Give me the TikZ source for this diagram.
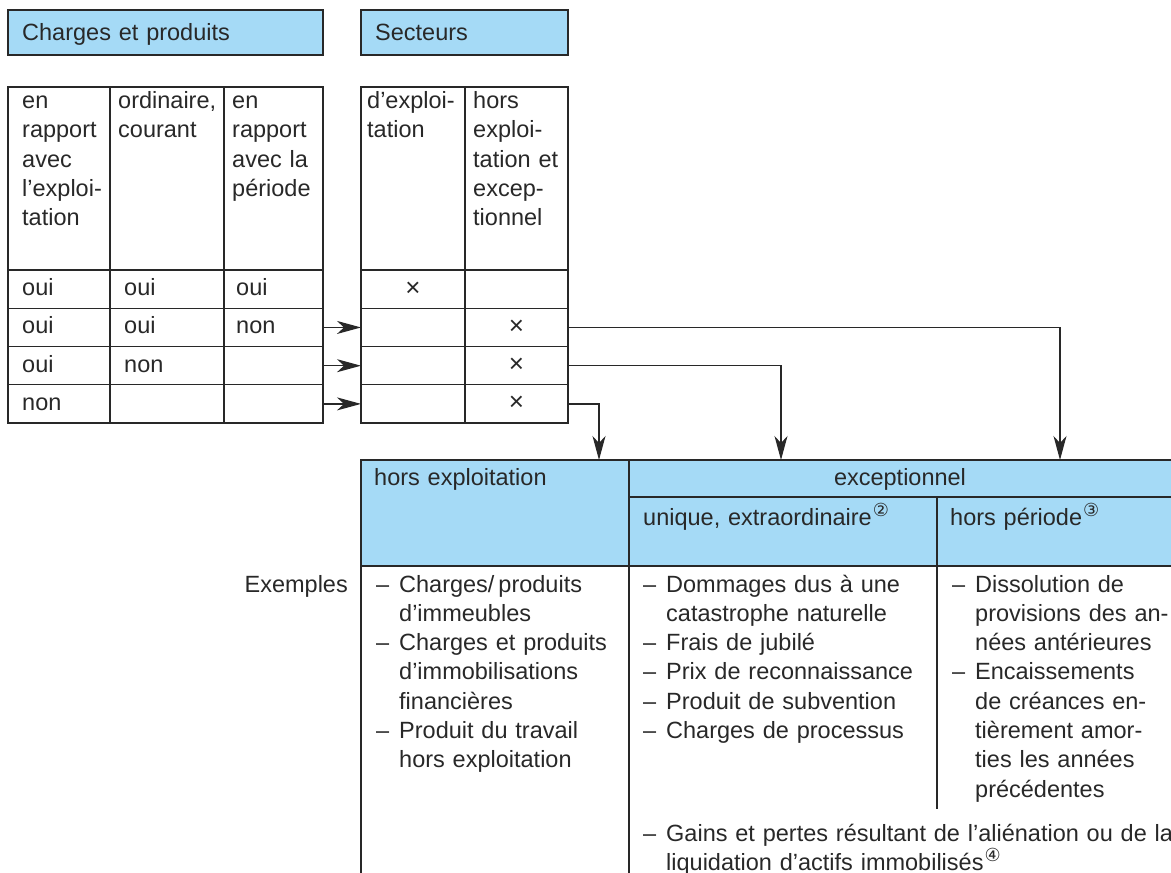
\documentclass[tikz,border=0pt]{standalone}
\usepackage{fontspec}
\setmainfont{Liberation Sans}
\newfontfamily\circfont{DejaVu Sans}
\usetikzlibrary{arrows.meta}
\definecolor{hdrblue}{RGB}{165,218,246}
\definecolor{ink}{RGB}{40,40,40}
\newcommand{\cnum}[1]{\kern1pt\raisebox{0.38em}{\circfont\fontsize{18}{18}\selectfont #1}}
\newcommand{\itm}{\leavevmode\llap{\makebox[23pt][l]{–}}}
\begin{document}
\begin{tikzpicture}[x=1pt,y=-1pt,
  line/.style={draw=ink, line width=1.2pt},
  cell/.style={line, anchor=north west, inner sep=0pt, outer sep=0pt},
  hdrbox/.style={cell, fill=hdrblue},
  txt/.style={font=\fontsize{23.5}{29.3}\selectfont, text=ink, inner sep=0pt, anchor=base west, align=left, text width=#1},
  txt/.default=300pt,
  ctxt/.style={font=\fontsize{23.5}{29.3}\selectfont, text=ink, inner sep=0pt, anchor=base},
  xmark/.style={font=\fontsize{26}{29.3}\selectfont, text=ink, inner sep=0pt, anchor=base},
  conn/.style={draw=ink, line width=1.2pt, -{Stealth[length=24pt,width=13pt,inset=7pt]}},
]
\useasboundingbox (0,0) rectangle (1171,873);

% header boxes
\node[hdrbox, minimum width=315pt, minimum height=45pt] (cp) at (8,10) {};
\node[txt] (cpt) at (22,40) {Charges et produits};
\node[hdrbox, minimum width=207pt, minimum height=45pt] (sec) at (361,10) {};
\node[txt] (sect) at (375,40) {Secteurs};

% left table cells
\foreach \c/\xa/\xb in {1/8/110, 2/110/224, 3/224/323}{
  \foreach \r/\ya/\yb in {0/87/270, 1/270/308.3, 2/308.3/346.6, 3/346.6/384.8, 4/384.8/423}{
    \node[cell, minimum width={(\xb-\xa)*1pt}, minimum height={(\yb-\ya)*1pt}] (L\r\c) at (\xa,\ya) {};
  }
}
% right table cells
\foreach \c/\xa/\xb in {1/361/465, 2/465/568}{
  \foreach \r/\ya/\yb in {0/87/270, 1/270/308.3, 2/308.3/346.6, 3/346.6/384.8, 4/384.8/423}{
    \node[cell, minimum width={(\xb-\xa)*1pt}, minimum height={(\yb-\ya)*1pt}] (R\r\c) at (\xa,\ya) {};
  }
}

% header texts of the tables
\node[txt=95pt] (h1) at (22,108.5) {en\\rapport\\avec\\l’exploi-\\tation};
\node[txt=110pt] (h2) at (118,108.5) {ordinaire,\\courant};
\node[txt=95pt] (h3) at (232,108.5) {en\\rapport\\avec la\\période};
\node[txt=98pt] (h4) at (367,108.5) {d’exploi-\\tation};
\node[txt=98pt] (h5) at (473,108.5) {hors\\exploi-\\tation et\\excep-\\tionnel};

% rows
\node[txt] (a11) at (22,295.5) {oui};
\node[txt] (a12) at (124,295.5) {oui};
\node[txt] (a13) at (236,295.5) {oui};
\node[xmark] (x11) at (413,296) {×};
\node[txt] (a21) at (22,333.8) {oui};
\node[txt] (a22) at (124,333.8) {oui};
\node[txt] (a23) at (236,333.8) {non};
\node[xmark] (x22) at (516.5,334.3) {×};
\node[txt] (a31) at (22,372) {oui};
\node[txt] (a32) at (124,372) {non};
\node[xmark] (x32) at (516.5,372.5) {×};
\node[txt] (a41) at (22,410.3) {non};
\node[xmark] (x42) at (516.5,410.8) {×};

% bottom header
\node[hdrbox, minimum width=268pt, minimum height=106pt] (HE) at (361,460) {};
\node[hdrbox, minimum width=545pt, minimum height=37pt] (EX) at (629,460) {};
\node[hdrbox, minimum width=308pt, minimum height=69pt] (UN) at (629,497) {};
\node[hdrbox, minimum width=237pt, minimum height=69pt] (HP) at (937,497) {};
\node[txt] (het) at (374,485) {hors exploitation};
\node[ctxt] (ext) at (900,485) {exceptionnel};
\node[txt] (unt) at (643,525) {unique, extraordinaire\cnum{②}};
\node[txt] (hpt) at (950,525) {hors période\cnum{③}};

% body columns
\coordinate (b1) at (361,880);
\coordinate (b2) at (629,880);
\coordinate (b3) at (937,809);
\draw[line] (HE.south west) -- (b1);
\draw[line] (HE.south east) -- (b2);
\draw[line] (HP.south west) -- (b3);

\node[ctxt, anchor=base east] (exm) at (348,592) {Exemples};
\node[txt=225pt] (l1) at (399,592) {\itm Charges/\,produits\\d’immeubles\\\itm Charges et produits\\d’immobilisations\\financières\\\itm Produit du travail\\hors exploitation};
\node[txt=265pt] (l2) at (666,592) {\itm Dommages dus à une\\catastrophe naturelle\\\itm Frais de jubilé\\\itm Prix de reconnaissance\\\itm Produit de subvention\\\itm Charges de processus};
\node[txt=200pt] (l3) at (975,592) {\itm Dissolution de\\provisions des an-\\nées antérieures\\\itm Encaissements\\de créances en-\\tièrement amor-\\ties les années\\précédentes};
\node[txt=520pt] (l4) at (666,841) {\itm Gains et pertes résultant de l’aliénation ou de la\\liquidation d’actifs immobilisés\cnum{④}};

% connectors
\draw[conn] (L23.east) -- (R21.west);
\draw[conn] (L33.east) -- (R31.west);
\draw[conn] (L43.east) -- (R41.west);
\coordinate (t1) at (599,460);
\coordinate (t2) at (781,460);
\coordinate (t3) at (1060,460);
\draw[conn] (R42.east) -| (t1);
\draw[conn] (R32.east) -| (t2);
\draw[conn] (R22.east) -| (t3);
\end{tikzpicture}
\end{document}
